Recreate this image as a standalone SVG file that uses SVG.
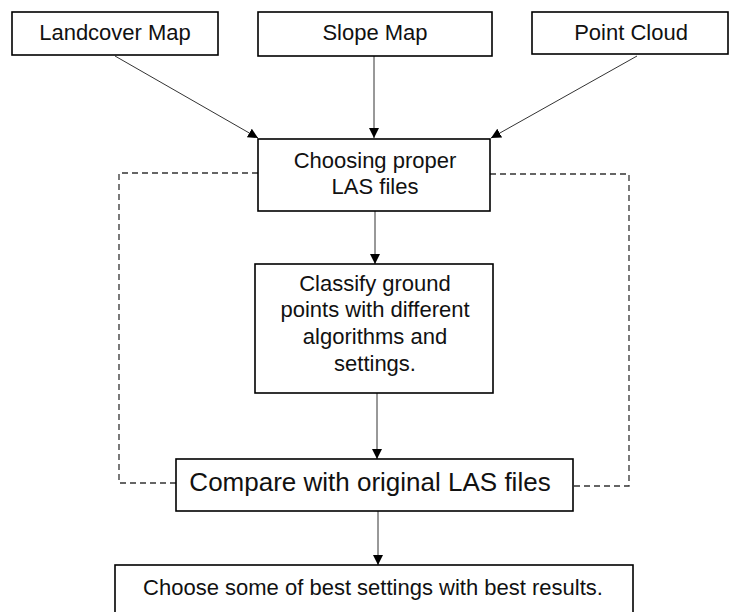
<svg xmlns="http://www.w3.org/2000/svg" width="729" height="612" viewBox="0 0 729 612">
<style>
.box{fill:#fff;stroke:#000;stroke-width:1.6}
.t{font-family:"Liberation Sans",Arial,sans-serif;font-size:22px;fill:#111;text-anchor:middle}
.big{font-size:26px}
.c{stroke:#333;stroke-width:1;fill:none}
.d{stroke:#333;stroke-width:1.3;fill:none;stroke-dasharray:6,4}
</style>
<defs>
<marker id="ah" viewBox="0 0 10 10" refX="10" refY="5" markerWidth="10" markerHeight="10" markerUnits="userSpaceOnUse" orient="auto">
<path d="M0,0 L10,5 L0,10 Z" fill="#000"/>
</marker>
</defs>
<g id="connectors">
<line class="c" x1="115" y1="56" x2="258" y2="138" marker-end="url(#ah)"/>
<line class="c" x1="374" y1="56" x2="374" y2="138" marker-end="url(#ah)"/>
<line class="c" x1="637" y1="56" x2="491" y2="138" marker-end="url(#ah)"/>
<line class="c" x1="375" y1="211" x2="375" y2="264" marker-end="url(#ah)"/>
<line class="c" x1="377" y1="393" x2="377" y2="459" marker-end="url(#ah)"/>
<line class="c" x1="378" y1="511" x2="378" y2="565" marker-end="url(#ah)"/>
<polyline class="d" points="258,173 119,173 119,483 176,483"/>
<polyline class="d" points="490,174 629,174 629,486 573,486"/>
</g>
<g id="landcover">
<rect class="box" x="12" y="12" width="206" height="43"/>
<text class="t" x="115" y="40">Landcover Map</text>
</g>
<g id="slope">
<rect class="box" x="258" y="12" width="234" height="44"/>
<text class="t" x="375" y="40">Slope Map</text>
</g>
<g id="pointcloud">
<rect class="box" x="532" y="12" width="196" height="42"/>
<text class="t" x="631" y="40">Point Cloud</text>
</g>
<g id="choosing">
<rect class="box" x="258" y="139" width="232" height="72"/>
<text class="t" x="375" y="168">Choosing proper</text>
<text class="t" x="375" y="194">LAS files</text>
</g>
<g id="classify">
<rect class="box" x="255" y="264" width="238" height="129"/>
<text class="t" x="375" y="291">Classify ground</text>
<text class="t" x="375" y="317">points with different</text>
<text class="t" x="375" y="344">algorithms and</text>
<text class="t" x="375" y="371">settings.</text>
</g>
<g id="compare">
<rect class="box" x="176" y="459" width="397" height="52"/>
<text class="t big" x="370" y="491">Compare with original LAS files</text>
</g>
<g id="choose">
<rect class="box" x="115" y="565" width="518" height="50"/>
<text class="t" x="373" y="595">Choose some of best settings with best results.</text>
</g>
</svg>
